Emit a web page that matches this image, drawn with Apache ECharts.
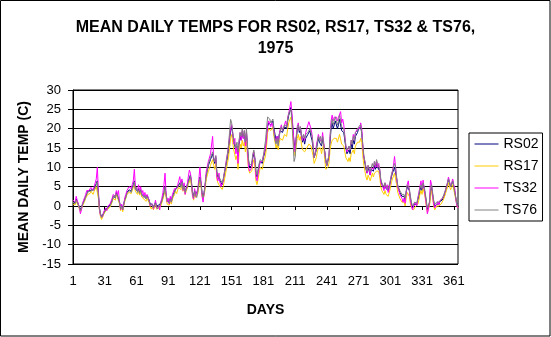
<!DOCTYPE html>
<html>
<head>
<meta charset="utf-8">
<script src="https://cdn.jsdelivr.net/npm/echarts@6/dist/echarts.min.js"></script>
<style>
html,body{margin:0;padding:0;background:#fff;}
#chart{width:551px;height:337px;}
</style>
</head>
<body>
<div id="chart"></div>
<script>
var titleText = "MEAN DAILY TEMPS FOR RS02, RS17, TS32 & TS76,\n1975";
var seriesNames = ["RS02", "RS17", "TS32", "TS76"];
var seriesColors = ["#000080", "#FFCC00", "#FF00FF", "#808080"];
var yMin = -15, yMax = 30, yStep = 5;
var dayCount = 365;
var days = [];
for (var i = 1; i <= dayCount; i++) days.push(String(i));

var rs02 = [
1.0,1.5,0.8,1.8,1.2,0.5,0.2,-1.0,-0.5,0.5,
1.0,1.8,2.5,3.2,3.8,4.3,4.0,4.5,4.2,3.8,
4.5,5.0,5.8,6.5,3.0,-0.5,-2.0,-2.8,-2.5,-1.8,
-1.5,-0.8,-1.0,-0.3,-0.5,0.2,0.5,1.5,2.5,3.0,
2.2,3.5,2.8,3.2,1.0,-0.5,0.3,-0.8,0.5,1.8,
2.5,3.5,3.0,4.2,4.5,3.8,4.8,5.5,6.5,4.5,
5.0,3.8,4.5,3.5,4.2,3.0,3.5,2.5,3.0,2.0,
2.8,2.2,1.5,0.5,0.0,0.5,-0.3,0.2,1.0,0.0,
-0.5,0.2,-0.3,0.8,1.5,2.5,3.5,5.0,3.0,1.5,
1.8,1.0,2.0,1.2,2.5,3.0,3.8,4.5,4.0,5.0,
5.5,6.0,5.0,6.5,4.5,5.5,3.8,4.5,5.0,6.5,
7.0,8.0,6.0,3.5,2.5,4.0,3.0,2.5,4.0,6.0,
7.5,6.0,3.5,2.5,3.5,5.5,8.0,8.5,10.5,11.0,
12.0,11.5,13.5,12.0,11.0,12.5,8.5,7.5,8.0,6.5,
6.0,5.5,6.5,8.0,9.5,11.0,12.5,14.0,17.0,19.5,
20.5,18.5,16.5,17.0,14.5,15.5,13.0,16.0,18.0,17.0,
19.0,17.5,18.5,16.0,19.0,15.0,11.5,10.0,9.5,10.5,
12.5,13.5,12.0,8.5,7.5,8.0,10.5,11.5,12.0,11.0,
12.5,13.5,14.5,17.0,20.5,21.5,22.0,21.0,21.5,22.0,
20.0,18.5,17.0,18.0,16.5,18.5,19.5,20.0,19.0,19.5,
20.5,21.0,20.0,22.0,23.5,24.0,25.5,23.0,19.5,16.5,
14.5,17.5,19.5,20.5,19.0,20.0,18.0,16.5,17.5,16.0,
17.5,18.0,18.5,19.0,19.5,18.0,17.0,15.0,12.5,13.0,
14.5,16.0,17.5,16.5,17.0,15.5,17.5,18.0,14.0,12.0,
10.5,11.5,12.5,16.5,20.0,21.5,20.0,21.0,22.0,21.5,
20.0,21.0,22.5,22.0,19.5,20.0,19.0,18.5,15.0,13.5,
13.0,14.5,13.5,16.0,15.0,17.0,16.0,18.0,17.5,19.0,
20.0,19.5,20.5,19.0,15.0,12.5,11.0,9.5,8.5,10.0,
9.0,8.0,9.5,10.0,9.0,10.5,9.5,11.0,10.0,10.5,
9.0,6.5,5.5,5.0,4.5,5.5,4.5,5.0,4.0,4.5,
6.0,7.5,8.5,9.0,10.0,9.5,7.0,5.0,4.5,3.5,
3.0,2.5,2.0,2.5,1.5,3.5,5.0,5.5,4.0,2.0,
0.5,-0.5,0.0,0.5,1.0,0.3,1.5,2.5,4.0,5.0,
4.0,5.5,4.5,3.0,1.0,-1.0,-0.5,0.5,3.5,5.0,
3.0,1.0,0.0,-0.5,0.5,1.0,0.5,1.2,1.0,1.5,
2.0,2.5,3.5,4.5,5.5,7.0,6.5,5.0,5.5,6.5,
5.0,4.5,2.0,0.5,0.0
];

var rs17 = [
0.5,1.0,0.3,1.2,0.8,0.0,-0.5,-1.5,-1.0,0.0,
0.5,1.2,2.0,2.5,3.0,3.5,3.2,3.8,3.5,3.0,
3.8,4.2,5.0,5.5,2.0,-1.0,-2.8,-3.5,-3.0,-2.2,
-2.0,-1.2,-1.5,-0.8,-1.0,-0.3,0.0,1.0,2.0,2.5,
1.5,3.0,2.2,2.5,0.5,-1.2,-0.3,-1.5,0.0,1.2,
2.0,3.0,2.5,3.5,4.0,3.2,4.0,4.8,5.5,3.8,
4.2,3.0,3.8,2.8,3.5,2.3,2.8,1.8,2.3,1.2,
2.0,1.5,0.8,-0.2,-0.8,-0.2,-1.0,-0.5,0.3,-0.8,
-1.2,-0.5,-1.0,0.0,0.8,1.8,2.8,4.0,2.2,0.5,
1.0,0.2,1.2,0.5,1.8,2.2,3.0,3.8,3.2,4.2,
4.8,5.2,4.2,5.5,3.8,4.8,3.0,3.8,4.2,5.5,
6.0,7.0,5.0,2.8,1.5,3.2,2.2,1.8,3.2,5.0,
6.5,5.0,2.5,1.8,2.8,4.5,7.0,7.5,9.0,9.5,
10.5,10.0,12.0,10.5,9.5,11.0,7.0,6.0,6.5,5.0,
4.5,4.3,5.0,6.5,8.0,9.5,11.0,12.5,15.0,17.5,
18.5,16.5,14.5,15.0,12.0,13.0,9.5,13.5,16.0,15.0,
17.0,15.5,16.5,14.0,17.0,12.5,9.5,8.5,8.0,9.0,
11.0,12.0,10.0,6.5,5.5,5.9,8.5,10.0,10.5,9.5,
11.0,12.0,13.0,15.5,19.0,20.0,20.5,19.5,20.0,20.5,
18.0,16.5,15.0,16.0,14.5,16.5,17.5,18.0,17.0,17.5,
18.5,19.0,18.0,20.0,21.5,22.0,23.0,21.0,17.5,15.0,
13.0,15.5,17.5,18.5,17.0,18.0,16.0,14.5,15.0,14.0,
14.5,15.0,15.5,16.0,16.5,15.5,15.0,13.0,11.0,11.5,
12.5,14.0,15.0,14.5,15.0,13.5,15.0,16.0,12.0,9.5,
9.0,10.0,11.0,14.5,16.0,17.0,16.5,17.5,18.0,17.5,
16.5,17.0,18.5,18.0,16.0,16.5,15.5,15.0,12.5,12.0,
11.5,12.5,11.5,13.5,13.0,14.5,13.5,15.5,15.0,16.5,
17.0,16.5,17.5,16.5,13.0,10.5,9.0,7.5,6.7,8.0,
7.5,6.5,7.5,8.5,7.5,8.5,8.0,9.0,8.5,9.0,
7.5,5.0,4.0,3.5,3.0,4.0,3.0,3.5,2.5,3.0,
4.5,6.0,7.0,7.5,8.5,8.0,5.5,3.5,3.0,2.0,
1.5,1.0,0.5,1.0,0.0,2.0,3.5,4.0,2.5,0.5,
-0.5,-1.0,-1.0,-0.5,0.0,-0.5,0.5,1.5,3.0,4.0,
3.0,4.5,3.5,2.0,0.0,-1.5,-1.0,0.0,2.5,4.0,
2.0,0.0,-1.0,-1.5,0.0,0.5,0.0,0.5,0.5,1.0,
1.5,2.0,3.0,4.0,4.8,6.0,5.5,4.2,4.8,5.5,
4.2,3.8,1.5,0.0,-0.5
];

var ts32 = [
1.5,2.0,1.0,2.5,1.5,0.5,-0.5,-2.0,-1.0,0.5,
1.5,2.2,3.0,4.0,4.5,4.0,3.5,4.8,4.5,4.0,
5.0,5.5,7.0,10.0,4.0,-1.0,-2.5,-3.0,-2.8,-1.5,
-1.0,-0.5,-1.2,0.0,-0.5,0.5,1.0,2.0,3.0,3.5,
2.5,4.0,3.0,4.0,1.0,-1.0,0.5,-1.0,0.5,2.2,
3.0,4.0,3.5,5.0,5.0,4.5,5.5,6.5,9.5,5.0,
5.5,4.0,5.5,3.8,5.0,3.0,4.0,2.5,3.5,2.0,
3.0,2.5,1.5,0.0,-0.3,0.5,-0.8,0.0,1.5,-0.5,
-1.0,0.0,-1.0,1.0,2.0,3.5,5.5,8.5,3.5,1.0,
2.0,0.5,2.5,1.0,3.0,3.5,4.5,5.0,4.5,5.5,
6.5,7.6,5.5,7.0,4.0,6.0,3.0,4.8,5.5,7.5,
9.3,8.5,6.5,2.5,1.8,4.5,2.5,2.0,4.5,7.0,
10.0,6.5,2.5,1.0,3.5,6.0,9.0,9.5,11.5,12.0,
13.5,13.0,18.0,12.5,11.5,13.0,7.5,6.5,8.5,6.0,
5.0,5.0,6.5,8.5,10.0,12.0,13.5,15.5,18.0,20.0,
21.0,19.0,16.0,17.5,13.5,15.5,11.0,16.5,19.0,17.0,
19.5,17.5,19.5,15.5,19.5,14.0,10.0,9.0,8.5,10.0,
13.0,14.0,12.0,7.5,6.5,7.0,10.0,11.5,12.0,11.5,
13.0,14.0,15.0,17.5,21.0,22.0,22.5,20.5,21.5,22.0,
19.5,17.5,16.5,18.0,16.0,18.5,20.0,21.0,19.5,20.0,
21.0,22.0,20.5,23.0,24.0,25.5,27.0,24.0,20.0,16.0,
14.0,18.0,20.5,21.5,19.5,20.5,18.0,17.0,18.5,17.0,
19.0,20.0,20.5,21.8,21.5,20.0,18.5,16.0,12.5,13.5,
15.5,17.0,18.5,17.5,18.0,16.5,19.0,19.0,14.0,11.5,
10.5,12.0,13.0,18.0,22.0,23.5,22.0,23.0,23.5,23.0,
22.0,23.0,23.5,24.4,21.5,22.5,21.0,20.5,15.5,14.0,
13.5,15.5,14.5,17.0,16.0,18.5,17.0,19.0,18.5,20.0,
20.5,20.0,21.5,20.0,15.5,12.5,11.5,10.0,8.5,10.5,
9.5,8.0,10.0,10.5,9.5,11.5,10.0,11.5,10.0,11.0,
9.5,6.0,5.5,5.0,4.0,6.0,4.5,5.5,3.5,4.5,
6.5,8.0,9.0,10.5,12.8,10.0,7.0,5.0,4.5,3.0,
2.5,2.0,1.0,2.0,0.7,3.5,5.5,6.5,4.0,1.5,
0.0,-1.0,0.0,1.0,1.5,0.0,2.0,3.5,5.0,6.5,
4.5,6.7,4.5,2.5,0.5,-2.0,-1.0,1.0,6.7,5.5,
2.5,0.5,-0.5,-1.0,0.5,1.2,0.3,1.5,1.0,1.8,
2.2,3.0,4.0,5.0,6.0,7.5,7.0,5.0,6.0,7.0,
5.5,4.5,1.5,0.0,-0.5
];

var ts76 = [
1.0,1.3,0.6,1.5,1.0,0.3,0.0,-1.2,-0.6,0.3,
0.8,1.5,2.3,3.0,3.6,4.0,3.8,4.2,4.0,3.5,
4.2,4.8,5.5,6.2,2.8,-0.8,-2.2,-3.0,-2.6,-2.0,
-1.6,-1.0,-1.2,-0.5,-0.6,0.0,0.3,1.2,2.2,2.8,
2.0,3.2,2.5,3.0,0.8,-0.8,0.0,-1.0,0.3,1.5,
2.2,3.2,2.8,4.0,4.2,3.5,4.5,5.2,6.2,4.2,
4.8,3.5,4.2,3.2,4.0,2.8,3.2,2.2,2.8,1.8,
2.5,2.0,1.2,0.3,-0.2,0.3,-0.5,0.0,0.8,-0.2,
-0.8,0.0,-0.5,0.5,1.2,2.2,3.2,4.8,2.8,1.2,
1.5,0.8,1.8,1.0,2.2,2.8,3.5,4.2,3.8,4.8,
5.2,5.8,4.8,6.2,4.2,5.2,3.5,4.2,4.8,6.2,
6.8,7.8,5.8,3.2,2.2,3.8,2.8,2.2,3.8,5.8,
7.2,5.8,3.2,2.2,3.2,5.5,8.0,9.0,11.0,11.5,
12.5,12.0,14.0,12.5,11.5,13.0,9.0,8.0,8.5,7.0,
6.5,6.0,7.0,8.5,10.0,11.5,13.5,15.5,19.0,22.4,
21.5,19.0,17.0,17.5,15.0,16.5,14.0,17.0,19.0,18.0,
20.0,18.0,19.5,16.5,20.0,15.5,12.0,10.5,10.0,11.0,
13.5,14.5,12.5,9.0,8.0,8.5,11.0,12.0,12.5,11.5,
13.0,15.0,17.0,20.0,23.0,23.0,22.5,21.5,22.0,22.5,
19.0,17.0,16.0,17.5,15.5,18.0,19.5,20.5,19.5,20.0,
21.0,21.5,20.5,22.5,24.0,24.5,25.0,22.0,17.0,11.5,
12.5,17.0,20.0,21.0,19.5,20.5,18.5,17.5,18.5,17.5,
18.5,19.0,19.0,19.5,20.0,19.0,18.0,15.5,12.5,13.0,
14.5,16.5,18.0,17.0,18.0,16.0,18.0,18.5,14.0,11.5,
10.5,12.0,13.0,17.5,21.0,22.5,21.0,22.0,23.0,22.5,
21.0,22.0,23.5,23.0,20.5,21.0,20.0,19.5,15.5,14.5,
14.0,15.5,14.5,17.0,16.0,18.0,17.0,19.0,18.5,19.5,
20.5,20.0,21.0,20.5,16.0,13.0,11.5,10.0,9.0,10.5,
10.0,9.0,10.0,11.0,10.0,11.5,10.5,12.0,11.0,11.5,
9.5,7.0,6.0,5.5,5.0,6.0,5.0,5.5,4.5,5.0,
6.5,8.0,9.0,9.5,11.0,10.0,7.5,5.5,5.0,4.0,
3.5,3.0,2.5,3.0,2.0,4.0,5.5,6.0,4.5,2.5,
1.0,0.0,0.5,1.0,1.5,0.8,2.0,3.0,4.5,5.5,
4.5,6.0,5.0,3.5,1.5,-0.5,0.0,1.0,4.0,5.5,
3.5,1.5,0.5,0.0,1.0,1.5,1.0,1.5,1.5,2.0,
2.5,3.0,4.0,5.0,6.0,7.0,6.5,5.0,5.5,6.5,
5.0,4.5,2.0,0.5,0.0
];

var seriesValues = [rs02, rs17, ts32, ts76];
var FONT = "'Liberation Sans', Arial, sans-serif";

var chart = echarts.init(document.getElementById('chart'), null, {renderer: 'canvas'});
var series = seriesNames.map(function (n, k) {
  return {
    name: n,
    type: 'line',
    data: seriesValues[k],
    symbol: 'none',
    showSymbol: false,
    smooth: false,
    color: seriesColors[k],
    lineStyle: {width: 1, color: seriesColors[k]},
    emphasis: {disabled: true},
    animation: false
  };
});

chart.setOption({
  animation: false,
  backgroundColor: '#ffffff',
  textStyle: {fontFamily: FONT, color: '#000'},
  title: {
    text: titleText,
    left: 'center',
    top: 12,
    textStyle: {fontFamily: FONT, fontSize: 16, fontWeight: 'bold', color: '#000', lineHeight: 21}
  },
  graphic: [{
    type: 'rect',
    shape: {x: 0.5, y: 0.5, width: 549.5, height: 335.5},
    style: {fill: 'none', stroke: '#000', lineWidth: 1},
    silent: true
  }],
  legend: {
    orient: 'vertical',
    left: 469,
    top: 133,
    padding: [4, 4, 4, 5],
    itemWidth: 24,
    itemHeight: 14,
    itemGap: 8,
    borderColor: '#000',
    borderWidth: 1,
    backgroundColor: '#fff',
    itemStyle: {opacity: 0, borderWidth: 0},
    lineStyle: {width: 1, opacity: 1},
    textStyle: {fontFamily: FONT, fontSize: 14, color: '#000'},
    data: seriesNames
  },
  grid: {
    left: 73, right: 93, top: 90, bottom: 73,
    containLabel: false,
    show: true,
    borderColor: '#000',
    borderWidth: 1,
    backgroundColor: 'transparent'
  },
  xAxis: {
    type: 'category',
    data: days,
    boundaryGap: false,
    name: 'DAYS',
    nameLocation: 'middle',
    nameGap: 39,
    nameTextStyle: {fontFamily: FONT, fontSize: 14, fontWeight: 'bold', color: '#000'},
    axisLine: {show: true, lineStyle: {color: '#000', width: 1}},
    axisTick: {show: true, interval: 29, length: 4, lineStyle: {color: '#000'}},
    axisLabel: {interval: 29, margin: 11, fontFamily: FONT, fontSize: 13, color: '#000'},
    splitLine: {show: false}
  },
  yAxis: {
    type: 'value',
    min: yMin,
    max: yMax,
    interval: yStep,
    name: 'MEAN DAILY TEMP (C)',
    nameLocation: 'middle',
    nameRotate: 90,
    nameGap: 32,
    nameTextStyle: {fontFamily: FONT, fontSize: 14, fontWeight: 'bold', color: '#000'},
    axisLine: {show: true, lineStyle: {color: '#000', width: 1}},
    axisTick: {show: true, length: 5, lineStyle: {color: '#000'}},
    axisLabel: {margin: 12, fontFamily: FONT, fontSize: 13, color: '#000'},
    splitLine: {show: true, lineStyle: {color: '#000', width: 1, type: 'solid'}}
  },
  series: series
});
</script>
</body>
</html>
